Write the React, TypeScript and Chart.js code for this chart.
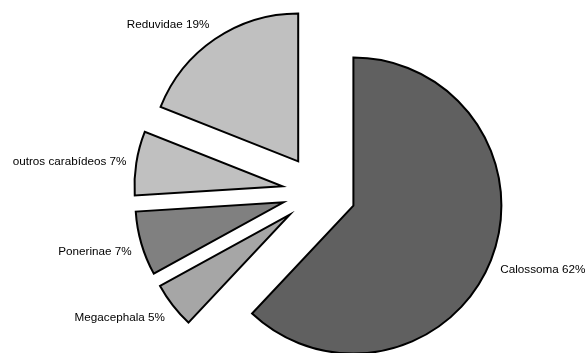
import React, { useEffect, useRef } from "react";
import { Chart, registerables } from "chart.js";

Chart.register(...registerables);

const categories = ["Calossoma", "Megacephala", "Ponerinae", "outros carabídeos", "Reduvidae"];
const percents = [62, 5, 7, 7, 19];
const sliceColors = ["#606060", "#a6a6a6", "#808080", "#c0c0c0", "#c0c0c0"];

const EXPLODE = 37;
const LABEL_GAP = 10;
const FONT = "11.7px 'Liberation Sans', Arial, sans-serif";

const explodePlugin = {
  id: "explode",
  afterDatasetsUpdate(chart: any) {
    const meta = chart.getDatasetMeta(0);
    meta.data.forEach((el: any) => {
      const mid = (el.startAngle + el.endAngle) / 2;
      el.x += Math.cos(mid) * EXPLODE;
      el.y += Math.sin(mid) * EXPLODE;
    });
  },
};

const labelPlugin = {
  id: "outerLabels",
  afterDatasetsDraw(chart: any) {
    const ctx = chart.ctx;
    const meta = chart.getDatasetMeta(0);
    ctx.save();
    ctx.font = FONT;
    ctx.fillStyle = "#000";
    meta.data.forEach((el: any, i: number) => {
      const mid = (el.startAngle + el.endAngle) / 2;
      const dx = Math.cos(mid);
      const dy = Math.sin(mid);
      const R = el.outerRadius + LABEL_GAP;
      const ax = el.x + dx * R;
      const ay = el.y + dy * R;
      const text = `${categories[i]} ${percents[i]}%`;
      ctx.textAlign = dx < 0 ? "right" : "left";
      if (dy < -0.25) ctx.textBaseline = "bottom";
      else if (dy > 0.25) ctx.textBaseline = "top";
      else ctx.textBaseline = "middle";
      ctx.fillText(text, ax, ay);
    });
    ctx.restore();
  },
};

export default function App() {
  const ref = useRef<HTMLCanvasElement | null>(null);
  useEffect(() => {
    if (!ref.current) return;
    const chart = new Chart(ref.current, {
      type: "pie",
      data: {
        labels: categories,
        datasets: [
          {
            data: percents,
            backgroundColor: sliceColors,
            borderColor: "#000",
            borderWidth: 2,
            borderJoinStyle: "miter",
          } as any,
        ],
      },
      options: {
        responsive: false,
        maintainAspectRatio: false,
        animation: false,
        radius: 148,
        layout: { padding: { left: 51, right: 0, top: 31, bottom: 0 } },
        plugins: {
          legend: { display: false },
          tooltip: { enabled: false },
        },
        events: [],
      } as any,
      plugins: [explodePlugin, labelPlugin],
    });
    return () => chart.destroy();
  }, []);
  return (
    <div style={{ position: "absolute", left: 0, top: 0, width: 587, height: 353, background: "#fff" }}>
      <canvas ref={ref} width={587} height={353} style={{ width: 587, height: 353, display: "block" }} />
    </div>
  );
}
